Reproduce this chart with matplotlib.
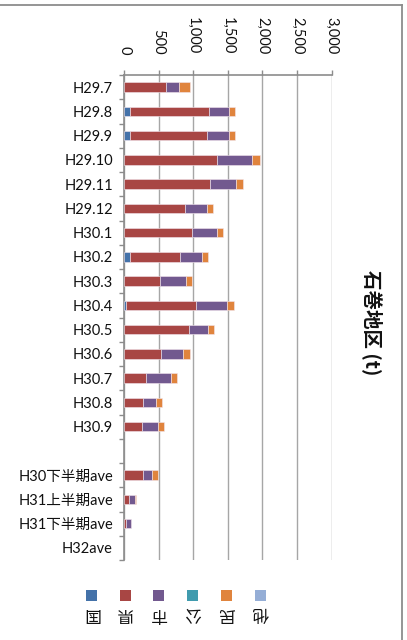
import matplotlib
matplotlib.use("Agg")
import matplotlib.pyplot as plt
import numpy as np
from matplotlib.lines import Line2D
from matplotlib.patches import Rectangle

plt.rcParams['font.family'] = ['Lato', 'Noto Sans CJK JP', 'DejaVu Sans']

categories = ["H29.7", "H29.8", "H29.9", "H29.10", "H29.11", "H29.12",
              "H30.1", "H30.2", "H30.3", "H30.4", "H30.5", "H30.6",
              "H30.7", "H30.8", "H30.9", "",
              "H30下半期ave", "H31上半期ave", "H31下半期ave", "H32ave"]
series_names = ["国", "県", "市", "公", "民", "他"]
koku = [0, 87, 87, 0, 0, 0, 0, 87, 0, 34, 0, 0, 0, 0, 0, 0, 0, 0, 0, 0]
ken = [602, 1146, 1118, 1349, 1248, 881, 987, 718, 525, 1012, 944, 540,
       318, 280, 265, 0, 280, 77, 24, 0]
shi = [198, 284, 313, 506, 371, 313, 356, 323, 376, 448, 265, 318,
       366, 183, 231, 0, 120, 87, 82, 0]
ko = [0] * 20
min_ = [149, 92, 87, 111, 96, 92, 87, 87, 82, 92, 92, 92,
        87, 92, 87, 0, 92, 14, 0, 0]
ta = [0] * 20
xticks = [0, 500, 1000, 1500, 2000, 2500, 3000]
xtick_labels = ["0", "500", "1,000", "1,500", "2,000", "2,500", "3,000"]
title = "石巻地区 (t)"

colors = ["#4472A9", "#A84644", "#72598F", "#409BAE", "#E0843D", "#95AED6"]
values = [koku, ken, shi, ko, min_, ta]

W, H = 407, 640
fig = plt.figure(figsize=(W / 100, H / 100), dpi=100)
ax = fig.add_axes([124 / W, 1 - 560 / H, 207.6 / W, 485 / H])

y = np.arange(len(categories))
left = np.zeros(len(categories))
for name, vals, c in zip(series_names, values, colors):
    v = np.array(vals, dtype=float)
    mask = v > 0
    ax.barh(y[mask], v[mask], left=left[mask], height=0.4, color=c,
            edgecolor='#f2e6ee', linewidth=0.4, zorder=3)
    left += v

ax.set_xlim(0, 3000)
ax.set_ylim(len(categories) - 0.5, -0.5)

ax.xaxis.set_ticks_position('top')
ax.set_xticks(xticks)
ax.set_xticklabels(xtick_labels, rotation=-90, fontsize=10.5, color='#111111')
ax.tick_params(axis='x', which='major', direction='out', length=3.6,
               width=1, color='#8c8c8c', pad=11)
ax.grid(axis='x', color='#a6a6a6', linewidth=1, zorder=0)

ax.set_yticks(y)
ax.set_yticklabels(categories, fontsize=10.5, color='#111111')
ax.set_yticks(np.arange(-0.5, len(categories)), minor=True)
ax.tick_params(axis='y', which='major', length=0, pad=8)
ax.tick_params(axis='y', which='minor', direction='out', length=3.6,
               width=1, color='#8c8c8c')

for s in ['right', 'bottom']:
    ax.spines[s].set_visible(False)
for s in ['left', 'top']:
    ax.spines[s].set_color('#8c8c8c')
    ax.spines[s].set_linewidth(1.2)

# chart border (top and right visible)
fig.add_artist(Line2D([0, 402 / W], [1 - 4.5 / H, 1 - 4.5 / H],
                      transform=fig.transFigure, color='#8c8c8c', lw=1.3))
fig.add_artist(Line2D([402 / W, 402 / W], [0, 1 - 4.5 / H],
                      transform=fig.transFigure, color='#8c8c8c', lw=1.3))

# title
fig.text(372 / W, 1 - 323 / H, title, rotation=-90, fontsize=14,
         fontweight='bold', ha='center', va='center',
         family=['Noto Sans CJK JP'], color='#111111')

# legend
leg_x = [91.5, 125, 158.5, 192.5, 226.5, 260.5]
sq = 11
for name, c, lx in zip(series_names, colors, leg_x):
    fig.add_artist(Rectangle(((lx - sq / 2) / W, 1 - (595 + sq / 2) / H),
                             sq / W, sq / H, transform=fig.transFigure,
                             facecolor=c, edgecolor='none'))
    fig.text(lx / W, 1 - 613 / H, name, rotation=180, fontsize=12,
             ha='center', va='center', family=['Noto Sans CJK JP'],
             color='#111111')

fig.savefig("out.png", dpi=100)
